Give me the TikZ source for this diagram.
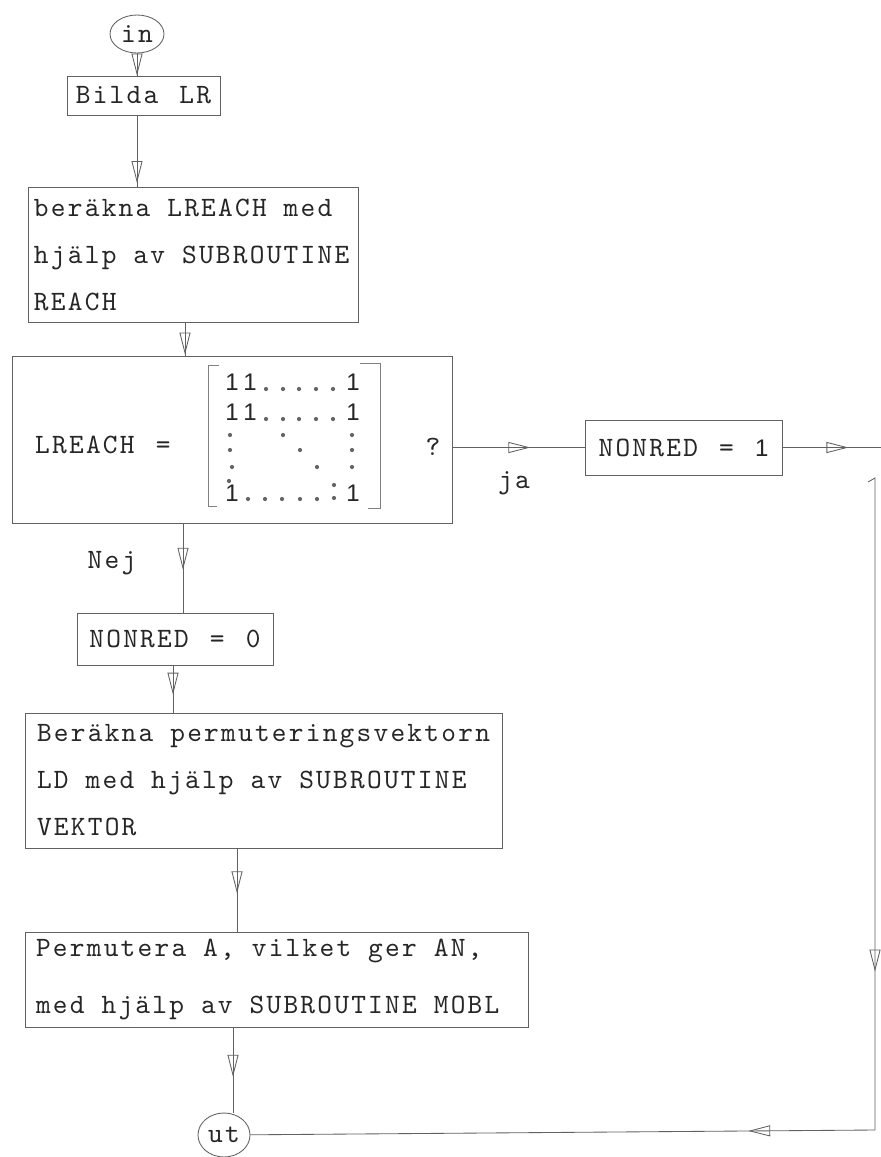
\documentclass[tikz,border=0pt]{standalone}
\usepackage{fontspec}
\setsansfont{Liberation Sans}
\setmonofont{lmmono10-regular.otf}[LetterSpace=8,WordSpace=1.25]
\usetikzlibrary{arrows.meta,decorations.markings,shapes.geometric}
\newcommand\tw{\ttfamily\fontsize{28}{47}\selectfont}
\newcommand\sone{{\sffamily\fontsize{24}{24}\selectfont 1}}
\newcommand\wsp{\kern17pt\relax}
\tikzset{
  ln/.style={draw=black!62, line width=0.85pt},
  box/.style={ln, rectangle, inner sep=0pt, font=\tw, text=black!85},
  term/.style={ln, ellipse, inner sep=0pt, font=\tw, text=black!85},
  lbl/.style={inner sep=0pt, font=\tw, text=black!85},
  one/.style={inner sep=0pt, text=black!85},
  opentip/.tip={Triangle[open, length=22pt, width=11pt, line width=0.85pt]},
  markat/.style={postaction={decorate}, decoration={markings, mark=at position #1 with {\arrow[black!62]{opentip}}}},
  mdot/.style={fill=black!60},
}
\begin{document}
\begin{tikzpicture}[x=1pt,y=-1pt]
\fill[white] (0,0) rectangle (881,1157);
\useasboundingbox (0,0) rectangle (881,1157);

% x positions of vertical connectors
\coordinate (c137) at (137,0);
\coordinate (c185) at (185,0);
\coordinate (c183) at (183,0);
\coordinate (c173) at (173,0);
\coordinate (c237) at (237,0);
\coordinate (c233) at (233,0);

% nodes
\node[term, minimum width=54pt, minimum height=38pt] (inC) at (137,34) {in};
\node[box, minimum width=153pt, minimum height=39pt] (bilda) at (143.5,95.5) {Bilda LR};
\node[box, minimum width=330pt, minimum height=135pt, text width=318pt, align=left] (ber) at (193,254.5)
  {beräkna\wsp LREACH\wsp med\\hjälp\wsp av\wsp SUBROUTINE\\REACH};
\node[box, minimum width=440pt, minimum height=167pt] (lreach) at (232,439.5) {};
\node[lbl, anchor=west] (lrtext) at (35,445) {LREACH =};
\node[lbl] (qm) at (433,447) {?};
\node[box, minimum width=197pt, minimum height=55pt] (nonred1) at (683.5,447.5) {NONRED = \sone};
\node[box, minimum width=196pt, minimum height=52pt] (nonred0) at (175,639) {NONRED = 0};
\node[box, minimum width=477pt, minimum height=135pt, text width=453pt, align=left] (perm) at (263.5,780.5)
  {Beräkna\wsp permuteringsvektorn\\LD\wsp med\wsp hjälp\wsp av\wsp SUBROUTINE\\VEKTOR};
\node[box, minimum width=503pt, minimum height=95pt, text width=481pt, align=left] (permA) at (276.5,979.5)
  {Permutera\wsp A,\wsp vilket\wsp ger\wsp AN,\\[10pt]med\wsp hjälp\wsp av\wsp SUBROUTINE\wsp MOBL};
\node[term, minimum width=52pt, minimum height=44pt] (utC) at (224,1135) {ut};
\node[lbl] (nej) at (112,563) {Nej};
\node[lbl] (ja) at (514,483) {ja};

% matrix brackets
\draw[ln, draw=black!50] (219,365) -- (208,365) -- (208,506) -- (217,506);
\draw[ln, draw=black!50] (360,363) -- (380,363) -- (380,508) -- (368,508);
% matrix ones
\node[one] (m11) at (232,382) {\sone};
\node[one] (m12) at (250,382) {\sone};
\node[one] (m1n) at (353,382) {\sone};
\node[one] (m21) at (232,412) {\sone};
\node[one] (m22) at (250,412) {\sone};
\node[one] (m2n) at (353,412) {\sone};
\node[one] (mn1) at (232,493) {\sone};
\node[one] (mnn) at (353,493) {\sone};
% matrix dots
\foreach \x in {266,283,299,316,333} {
  \fill[mdot] (\x,389) circle (2.1pt);
  \fill[mdot] (\x,419) circle (2.1pt);
}
\foreach \x/\y in {230/435,283/435,352/435, 230/450,300/450,352/450, 232/467,317/467,352/467, 229/481,
                   248/499,265/499,282/499,300/499,317/499, 334/485,334/498} {
  \fill[mdot] (\x,\y) circle (2.1pt);
}

% right-hand loop coordinates
\coordinate (rt) at (881,447.5);
\coordinate (rh) at (868,482);
\coordinate (rv) at (875,478);
\coordinate (rb) at (875,1130);

% connectors
\draw[ln, markat=1] (inC.south) -- (inC.south |- bilda.north);
\draw[ln, markat=0.95] (bilda.south -| c137) -- (ber.north -| c137);
\draw[ln, markat=0.97] (ber.south -| c185) -- (lreach.north -| c185);
\draw[ln, markat=0.52] (lreach.south -| c183) -- (nonred0.north -| c183);
\draw[ln, markat=0.62] (nonred0.south -| c173) -- (perm.north -| c173);
\draw[ln, markat=0.54] (perm.south -| c237) -- (permA.north -| c237);
\draw[ln, markat=0.58] (permA.south -| c233) -- (utC.north -| c233);
\draw[ln, markat=0.59] (lreach.east |- nonred1.west) -- (nonred1.west);
\draw[ln, markat=0.67] (nonred1.east) -- (rt);
\draw[ln, markat=0.76] (rh) -- (rv) -- (rb);
\draw[ln, markat=0.203] (rb) -- (utC);
\end{tikzpicture}
\end{document}
